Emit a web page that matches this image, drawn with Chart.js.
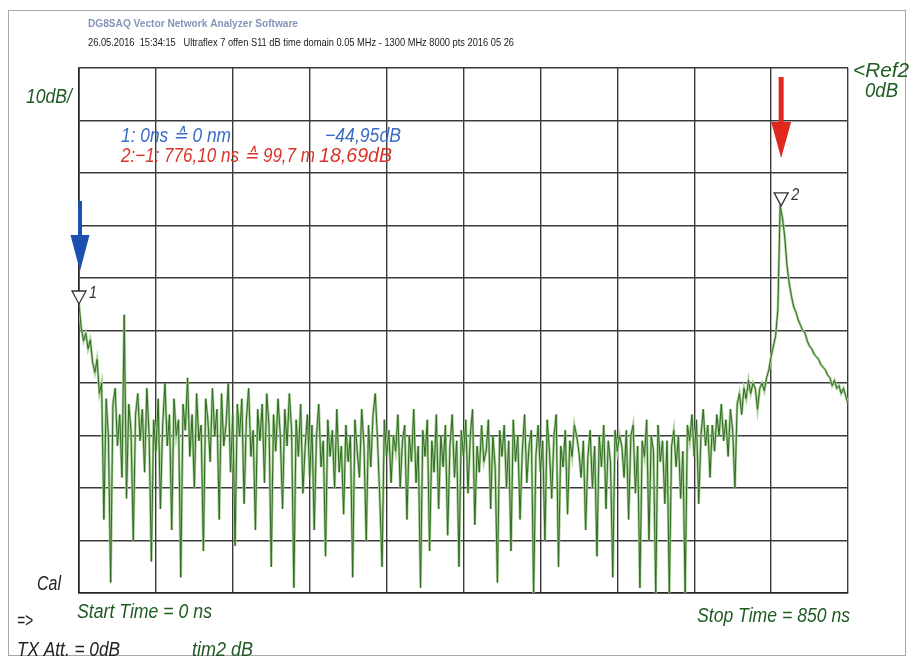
<!DOCTYPE html>
<html>
<head>
<meta charset="utf-8">
<title>S11 time domain</title>
<script src="https://cdn.jsdelivr.net/npm/chart.js@4.4.1/dist/chart.umd.min.js"></script>
<style>
  html, body { margin: 0; padding: 0; background: #ffffff; }
  #vna { display: block; }
</style>
</head>
<body>
<canvas id="vna" width="913" height="661"></canvas>
<script>
// sweep settings of the time domain view
const START_NS = 0;
const STOP_NS = 850;
const STEP_NS = 2.5;
const X_DIV_NS = 85;
const REF_DB = 0;
const DB_PER_DIV = 10;

// S11 trace in dB, one value per 2.5 ns (20 values per row = 50 ns)
const s11Db = [
  -45.0, -49.5, -52.0, -50.5, -53.5, -51.8, -56.0, -58.0, -55.5, -62.0, -60.0, -86.0, -63.0, -70.0, -98.0, -64.0, -61.0, -72.0, -66.0, -78.0,
  -47, -82, -64, -69, -90, -66, -62, -71, -65, -77, -61, -70, -94, -67, -73, -63, -84, -68, -60, -72,
  -66, -88, -63, -70, -67, -97, -64, -69, -59, -74, -66, -80, -62, -71, -68, -92, -63, -67, -75, -61,
  -70, -65, -86, -62, -72, -68, -60, -77, -66, -91, -64, -70, -63, -83, -67, -61, -74, -69, -88, -65,
  -71, -64, -79, -62, -68, -95, -66, -73, -63, -70, -84, -65, -72, -62, -69, -99, -67, -74, -64, -81,
  -72, -66, -78, -68, -88, -70, -64, -76, -71, -93, -67, -74, -69, -80, -65, -77, -72, -85, -68, -75,
  -70, -97, -67, -73, -78, -65, -72, -90, -68, -76, -66, -62, -71, -82, -95, -67, -74, -69, -79, -70,
  -73, -66, -80, -71, -68, -86, -70, -75, -65, -79, -72, -99, -69, -74, -67, -92, -71, -77, -66, -84,
  -70, -76, -68, -89, -72, -66, -78, -71, -95, -69, -74, -67, -81, -70, -65, -87, -72, -77, -68, -75,
  -73, -67, -84, -70, -76, -98, -69, -74, -68, -80, -71, -92, -67, -75, -70, -86, -73, -66, -79, -72,
  -69, -100, -74, -68, -77, -71, -90, -67, -73, -82, -70, -66, -95, -72, -76, -69, -85, -71, -74, -68,
  -70, -73, -78, -71, -88, -74, -69, -80, -72, -93, -70, -76, -68, -84, -71, -75, -97, -69, -73, -70,
  -72, -78, -69, -86, -70, -68, -81, -72, -99, -71, -74, -67, -90, -70, -73, -100, -68, -75, -71, -83,
  -71, -100, -72, -69, -76, -70, -82, -73, -100, -68, -71, -66, -74, -67, -83, -70, -65, -72, -68, -78,
  -68, -73, -66, -70, -64, -71, -67, -74, -65, -69, -80, -64, -62, -66, -61, -63, -59.5, -62, -60, -61,
  -65, -61, -60, -61.5, -59, -57.5, -55, -53, -51, -46, -26.3, -28.5, -32, -37.5, -41, -43.5, -45.5, -46.5, -48, -49,
  -50, -50.5, -52, -53, -53.5, -54.5, -55, -55.5, -56.5, -57, -57.5, -58.5, -59, -60.5, -59.5, -61, -60.5, -62, -61, -62.5,
  -64
];

// markers: 1 at the start, 2 on the reflection peak
const markerNs = [0, 776.10];
const markerDb = [-44.95, -26.26];
const markerLabels = ['1', '2'];

const GREEN_TXT = '#1f5a22';
const BLUE_TXT = '#3a6cc4';
const RED_TXT = '#d8352a';

// each dataset gets its own copy of the points
const tracePoints = () => s11Db.map((v, i) => ({ x: START_NS + i * STEP_NS, y: v }));

// draw a string squeezed or stretched to a given width
function fitText(ctx, text, x, y, w, font, color) {
  ctx.save();
  ctx.font = font;
  ctx.fillStyle = color;
  ctx.textBaseline = 'middle';
  const m = ctx.measureText(text).width;
  ctx.translate(x, y);
  ctx.scale(w / m, 1);
  ctx.fillText(text, 0, 0);
  ctx.restore();
}

function fmt(v, d) {
  return v.toFixed(d).replace('.', ',');
}

const ITAL = "italic 20px 'Liberation Sans', Arial, sans-serif";

const background = {
  id: 'background',
  beforeDraw(chart) {
    const ctx = chart.ctx;
    ctx.save();
    ctx.fillStyle = '#ffffff';
    ctx.fillRect(0, 0, chart.width, chart.height);
    ctx.strokeStyle = '#a8a8a8';
    ctx.lineWidth = 1;
    ctx.strokeRect(8.5, 10.5, 897, 645);
    ctx.restore();
  }
};

const annotations = {
  id: 'annotations',
  afterDatasetsDraw(chart) {
    const ctx = chart.ctx;
    const xs = chart.scales.x, ys = chart.scales.y;

    // header lines
    fitText(ctx, 'DG8SAQ Vector Network Analyzer Software', 88, 24, 210,
      "bold 10px 'Liberation Sans', Arial, sans-serif", '#8495b8');
    fitText(ctx, '26.05.2016  15:34:15   Ultraflex 7 offen S11 dB time domain 0.05 MHz - 1300 MHz 8000 pts 2016 05 26',
      88, 43, 426, "11px 'Liberation Sans', Arial, sans-serif", '#1a1a1a');

    // side labels
    fitText(ctx, '10dB/', 26, 97, 46, ITAL, GREEN_TXT);
    fitText(ctx, '<Ref2', 853, 71, 56, ITAL, GREEN_TXT);
    fitText(ctx, '0dB', 865, 91, 33, ITAL, GREEN_TXT);
    fitText(ctx, 'Cal', 37, 584, 24, ITAL, '#222222');
    fitText(ctx, '=>', 17, 621, 16, ITAL, '#222222');
    fitText(ctx, 'Start Time = ' + START_NS + ' ns', 77, 612, 135, ITAL, GREEN_TXT);
    fitText(ctx, 'Stop Time = ' + STOP_NS + ' ns', 697, 616, 153, ITAL, GREEN_TXT);
    fitText(ctx, 'TX Att. = 0dB', 17, 650, 103, ITAL, '#222222');
    fitText(ctx, 'tim2 dB', 192, 650, 61, ITAL, GREEN_TXT);

    // marker readout
    const dt = markerNs[1] - markerNs[0];
    const dDb = markerDb[1] - markerDb[0];
    fitText(ctx, '1: ' + markerNs[0] + 'ns \u2259 0 nm', 121, 136, 110, ITAL, BLUE_TXT);
    fitText(ctx, '\u2212' + fmt(-markerDb[0], 2) + 'dB', 325, 136, 76, ITAL, BLUE_TXT);
    fitText(ctx, '2:\u22121: ' + fmt(dt, 2) + ' ns \u2259 99,7 m', 121, 156, 194, ITAL, RED_TXT);
    fitText(ctx, fmt(dDb, 2) + 'dB', 319, 156, 73, ITAL, RED_TXT);

    // marker triangles with their numbers
    markerNs.forEach((t, i) => {
      const px = xs.getPixelForValue(t);
      const py = ys.getPixelForValue(markerDb[i]);
      ctx.save();
      ctx.strokeStyle = '#333333';
      ctx.lineWidth = 1.3;
      ctx.fillStyle = '#ffffff';
      ctx.beginPath();
      ctx.moveTo(px - 7, py - 13);
      ctx.lineTo(px + 7, py - 13);
      ctx.lineTo(px, py);
      ctx.closePath();
      ctx.fill();
      ctx.stroke();
      ctx.restore();
      fitText(ctx, markerLabels[i], px + 10, py - 11, 8,
        "italic 17px 'Liberation Sans', Arial, sans-serif", '#333333');
    });

    // arrows pointing at the markers
    const arrow = (x, yTop, yTip, shaftW, headW, headH, color) => {
      ctx.save();
      ctx.fillStyle = color;
      ctx.fillRect(x - shaftW / 2, yTop, shaftW, yTip - headH - yTop + 1);
      ctx.beginPath();
      ctx.moveTo(x - headW / 2, yTip - headH);
      ctx.lineTo(x + headW / 2, yTip - headH);
      ctx.lineTo(x, yTip);
      ctx.closePath();
      ctx.fill();
      ctx.restore();
    };
    arrow(xs.getPixelForValue(markerNs[0]) + 1, 201, 271, 4, 19, 36, '#1d4fae');
    arrow(xs.getPixelForValue(markerNs[1]), 77, 158, 5, 20, 36, '#e0281e');
  }
};

new Chart(document.getElementById('vna'), {
  type: 'line',
  data: {
    datasets: [
      {
        // light halo underneath
        data: tracePoints(),
        borderColor: '#a9cf98',
        borderWidth: 2.6,
        pointRadius: 0,
        tension: 0,
        order: 2
      },
      {
        // dark trace on top
        data: tracePoints(),
        borderColor: '#2f6a22',
        borderWidth: 1,
        pointRadius: 0,
        tension: 0,
        order: 1
      }
    ]
  },
  options: {
    responsive: false,
    animation: false,
    events: [],
    layout: { padding: { left: 79, right: 65, top: 68, bottom: 68 } },
    plugins: {
      legend: { display: false },
      tooltip: { enabled: false },
      title: { display: false }
    },
    scales: {
      x: {
        type: 'linear',
        min: START_NS,
        max: STOP_NS,
        ticks: { display: false, stepSize: X_DIV_NS },
        grid: { color: '#3a3a3a', lineWidth: 1.4, drawTicks: false },
        border: { color: '#222222', width: 1.6 }
      },
      y: {
        type: 'linear',
        min: REF_DB - 10 * DB_PER_DIV,
        max: REF_DB,
        ticks: { display: false, stepSize: DB_PER_DIV },
        grid: { color: '#3a3a3a', lineWidth: 1.4, drawTicks: false },
        border: { color: '#222222', width: 1.6 }
      }
    }
  },
  plugins: [background, annotations]
});
</script>
</body>
</html>
